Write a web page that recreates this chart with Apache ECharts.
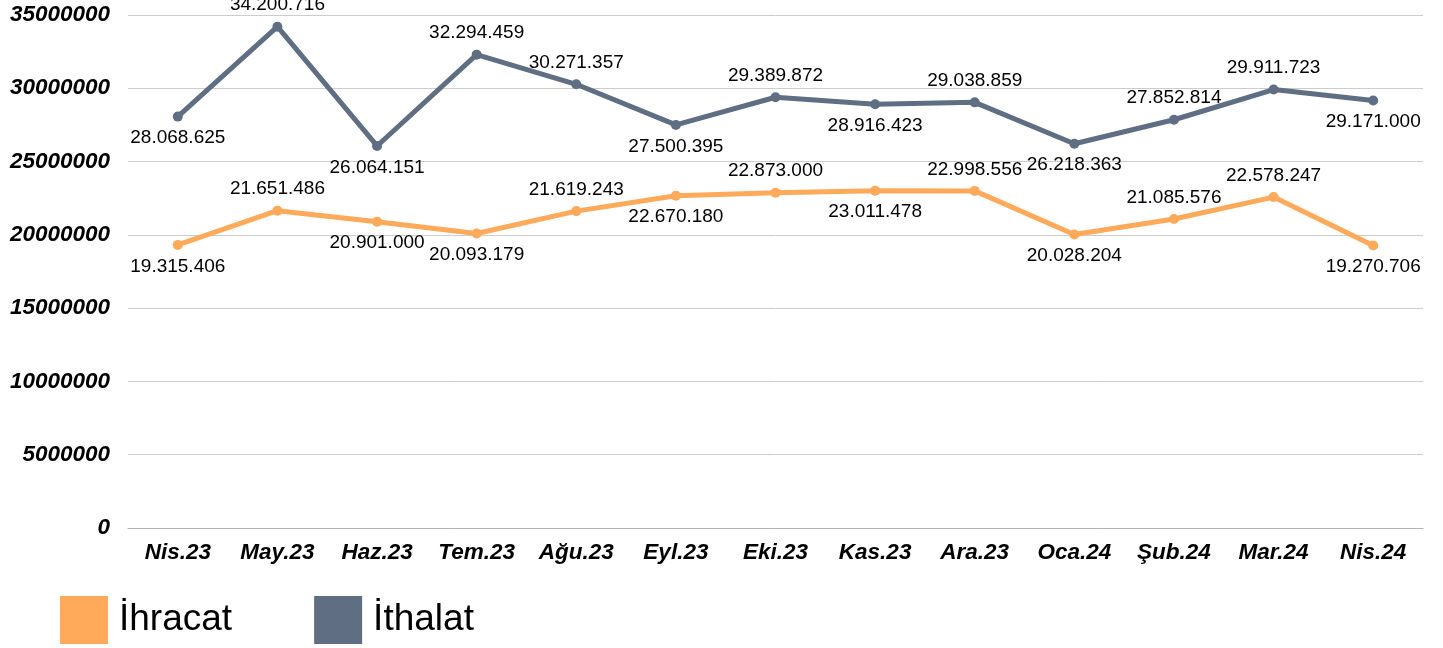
<!DOCTYPE html>
<html>
<head>
<meta charset="utf-8">
<script src="https://cdn.jsdelivr.net/npm/echarts@6/dist/echarts.min.js"></script>
<style>
  html, body { margin: 0; padding: 0; background: #fff; }
  #container { width: 1443px; height: 648px; }
</style>
</head>
<body>
<div id="container"></div>
<script>
var months = ['Nis.23','May.23','Haz.23','Tem.23','Ağu.23','Eyl.23','Eki.23','Kas.23','Ara.23','Oca.24','Şub.24','Mar.24','Nis.24'];
var ihracat = [19315406, 21651486, 20901000, 20093179, 21619243, 22670180, 22873000, 23011478, 22998556, 20028204, 21085576, 22578247, 19270706];
var ithalat = [28068625, 34200716, 26064151, 32294459, 30271357, 27500395, 29389872, 28916423, 29038859, 26218363, 27852814, 29911723, 29171000];
// etiket yerleri: 1 = ustte, 0 = altta
var ihracatUst = [0,1,0,0,1,0,1,0,1,0,1,1,0];
var ithalatUst = [0,1,0,1,1,0,1,0,1,0,1,1,0];

function fmt(v) {
    return String(v).replace(/\B(?=(\d{3})+(?!\d))/g, '.');
}
function mkData(vals, ust) {
    return vals.map(function (v, i) {
        return { value: v, label: { position: ust[i] ? 'top' : 'bottom' } };
    });
}

var dom = document.getElementById("container");
var myChart = echarts.init(dom);
var option = {
    animation: false,
    grid: { left: 128, right: 20, top: 15, bottom: 120, containLabel: false },
    legend: {
        left: 55,
        bottom: 0,
        padding: [5, 5, 4, 5],
        itemWidth: 48,
        itemHeight: 48,
        itemGap: 82,
        icon: 'rect',
        textStyle: { fontFamily: 'Liberation Sans', fontSize: 37, color: '#000', padding: [6, 0, 0, 6] },
        data: ['İhracat', 'İthalat']
    },
    xAxis: {
        type: 'category',
        data: months,
        boundaryGap: true,
        axisTick: { show: false },
        axisLine: { lineStyle: { color: '#b3b3b3', width: 1 } },
        axisLabel: {
            interval: 0,
            fontFamily: 'Liberation Sans', fontSize: 22.5, fontWeight: 'bold', fontStyle: 'italic',
            color: '#000', margin: 13
        }
    },
    yAxis: {
        type: 'value',
        min: 0,
        max: 35000000,
        interval: 5000000,
        axisLine: { show: false },
        axisTick: { show: false },
        splitLine: { lineStyle: { color: '#cccccc', width: 1 } },
        axisLabel: {
            fontFamily: 'Liberation Sans', fontSize: 22.5, fontWeight: 'bold', fontStyle: 'italic',
            color: '#000', margin: 18,
            formatter: function (v) { return String(v); }
        }
    },
    series: [
        {
            name: 'İhracat',
            type: 'line',
            data: mkData(ihracat, ihracatUst),
            color: '#ffa95a',
            symbol: 'circle',
            symbolSize: 10,
            lineStyle: { width: 5, color: '#ffa95a' },
            itemStyle: { color: '#ffa95a' },
            label: {
                show: true, distance: 7, color: '#000',
                fontFamily: 'Liberation Sans', fontSize: 19,
                formatter: function (p) { return fmt(p.value); }
            }
        },
        {
            name: 'İthalat',
            type: 'line',
            data: mkData(ithalat, ithalatUst),
            color: '#5f6e83',
            symbol: 'circle',
            symbolSize: 10,
            lineStyle: { width: 5, color: '#5f6e83' },
            itemStyle: { color: '#5f6e83' },
            label: {
                show: true, distance: 7, color: '#000',
                fontFamily: 'Liberation Sans', fontSize: 19,
                formatter: function (p) { return fmt(p.value); }
            }
        }
    ]
};
myChart.setOption(option, true);
</script>
</body>
</html>
